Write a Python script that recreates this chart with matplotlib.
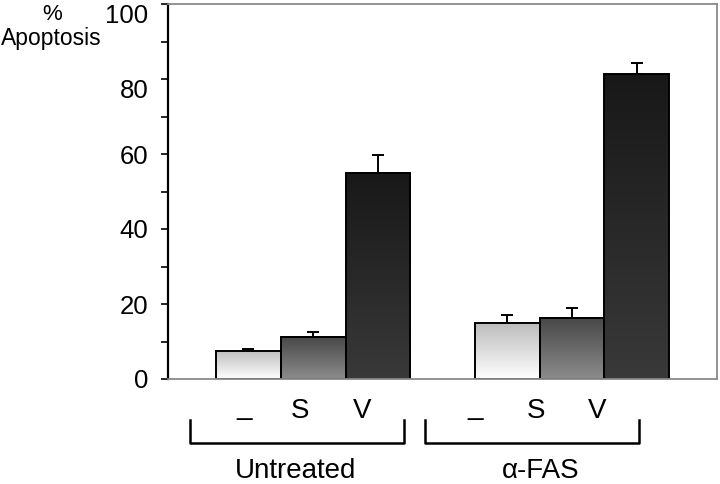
import numpy as np
import matplotlib
matplotlib.use('Agg')
import matplotlib.pyplot as plt
import matplotlib.transforms as mtransforms
from matplotlib.colors import LinearSegmentedColormap

plt.rcParams['font.family'] = ['Liberation Sans', 'DejaVu Sans']

# data
groups = ['Untreated', '\u03b1-FAS']
treatments = ['_', 'S', 'V']
values = [[7.6, 11.3, 55.0], [14.9, 16.4, 81.3]]
errors = [[0.4, 1.3, 4.7], [2.2, 2.5, 2.9]]

# gradient (bottom colour, top colour) for each treatment
grad_colors = [('#ffffff', '#bcbcbc'), ('#8c8c8c', '#474747'), ('#393939', '#181818')]

fig = plt.figure(figsize=(7.2, 4.84), dpi=100)
ax = fig.add_axes([168/720, 1 - 379/484, (717-168)/720, (379-4)/484])

grad = np.linspace(0, 1, 256).reshape(-1, 1)
for gi, g in enumerate(groups):
    for ti, t in enumerate(treatments):
        x = gi * 4 + ti
        v = values[gi][ti]
        cmap = LinearSegmentedColormap.from_list('g%d' % ti, grad_colors[ti])
        ax.imshow(grad, extent=[x - 0.5, x + 0.5, 0, v], origin='lower',
                  aspect='auto', cmap=cmap, zorder=1)
        ax.bar(x, v, width=1.0, facecolor='none', edgecolor='black',
               linewidth=1.4, zorder=2)
        ax.errorbar(x, v, yerr=[[0], [errors[gi][ti]]], fmt='none',
                    ecolor='black', elinewidth=1.4, capsize=4.5, capthick=1.4,
                    zorder=3)

ax.set_xlim(-1.244, 7.24)
ax.set_ylim(0, 100)
ax.set_xticks([])
ax.set_yticks(np.arange(0, 101, 20))
ax.set_yticks(np.arange(10, 100, 20), minor=True)
ax.tick_params(axis='y', which='both', direction='out', length=5, width=1.2,
               labelsize=18.5, pad=9)
ax.spines['left'].set_linewidth(1.6)
ax.spines['left'].set_color('black')
for s in ['top', 'right', 'bottom']:
    ax.spines[s].set_color('#8a8a8a')
    ax.spines[s].set_linewidth(1.3)

# push the top labels down a little, as in the original
fig.canvas.draw()
for lab in ax.get_yticklabels():
    if lab.get_text() in ('100', '80'):
        lab.set_transform(lab.get_transform() +
                          mtransforms.ScaledTranslation(0, -7/72, fig.dpi_scale_trans))

# treatment labels under the bars
label_x = [[-0.07, 0.80, 1.75], [3.50, 4.44, 5.39]]
for gi in range(2):
    for ti, t in enumerate(treatments):
        ax.text(label_x[gi][ti], -10.4 if t != '_' else -9.4, t, ha='center',
                va='baseline', fontsize=20, clip_on=False)

# brackets
brackets = [(-0.904, 2.403), (2.728, 6.035)]
for x0, x1 in brackets:
    ax.plot([x0, x0, x1, x1], [-11.0, -17.1, -17.1, -11.0], color='black',
            linewidth=1.8, clip_on=False)

group_x = [0.72, 4.52]
for gi, g in enumerate(groups):
    ax.text(group_x[gi], -26.4, g, ha='center', va='baseline', fontsize=20,
            clip_on=False)

fig.text(52/720, 1 - 15/484, '%', ha='center', va='center', fontsize=16)
fig.text(51/720, 1 - 38/484, 'Apoptosis', ha='center', va='center', fontsize=16.5)

plt.savefig('out.png', dpi=100)
